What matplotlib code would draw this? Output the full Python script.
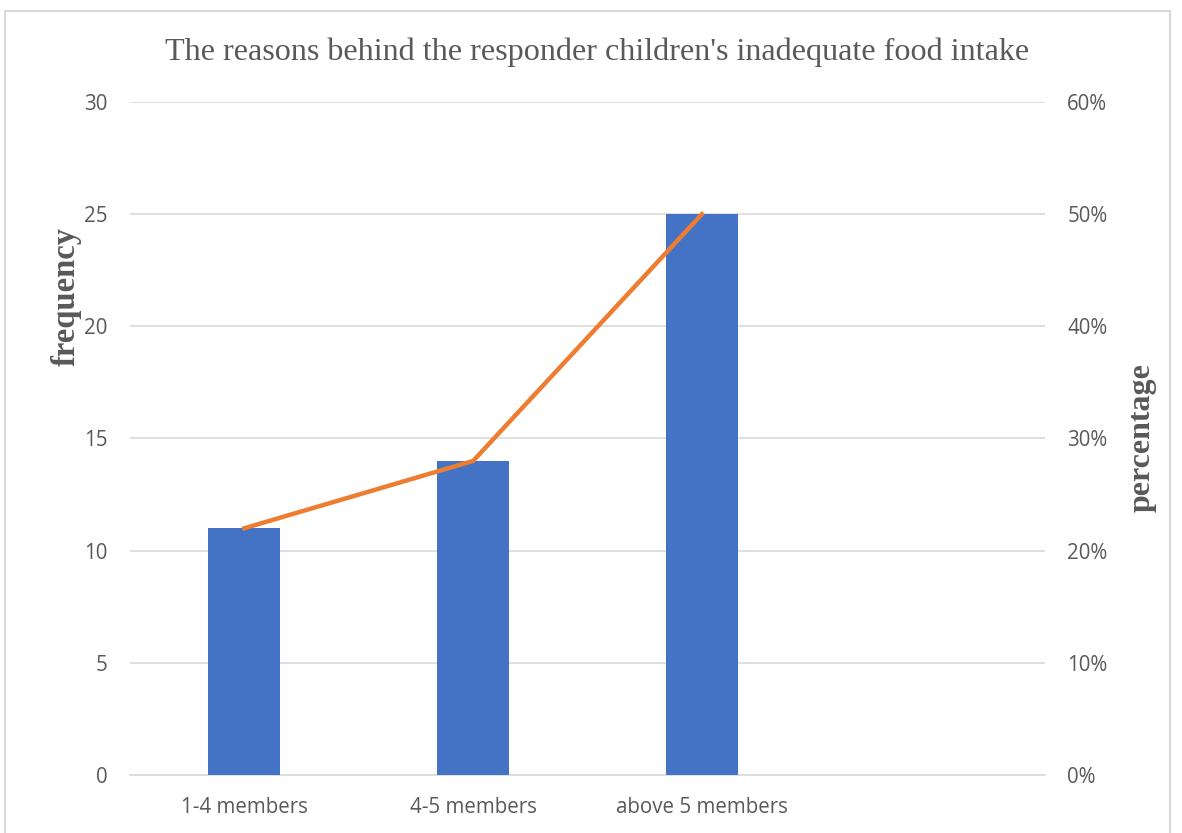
import matplotlib.pyplot as plt
import matplotlib.patches as mpatches
import numpy as np

categories = ['1-4 members', '4-5 members', 'above 5 members', '']
frequency = [11, 14, 25]
percentage = [22, 28, 50]

grey = '#595959'

fig = plt.figure(figsize=(11.82, 8.33), dpi=100)
ax = fig.add_axes([130/1182, 1-775/833, (1045-130)/1182, (775-102)/833])

# frame around the whole chart
fig.patches.append(mpatches.Rectangle((5/1182, -0.05), (1170-5)/1182, 1.05 - 11/833,
                                      transform=fig.transFigure, fill=False,
                                      edgecolor='#d9d9d9', linewidth=1.5))

x = np.arange(len(categories))
ax.bar(x[:3], frequency, width=0.315, color='#4472C4', zorder=3)
ax.set_xlim(-0.5, 3.5)
ax.set_ylim(0, 30)
ax.set_yticks(range(0, 31, 5))
ax.set_xticks(x)
ax.set_xticklabels(categories)
ax.grid(axis='y', color='#d9d9d9', linewidth=1.2, zorder=0)
for s in ax.spines.values():
    s.set_visible(False)
ax.spines['bottom'].set_visible(True)
ax.spines['bottom'].set_color('#d9d9d9')
ax.spines['bottom'].set_linewidth(1.2)
ax.tick_params(length=0, labelsize=14.8, labelcolor=grey, pad=16)
ax.tick_params(axis='x', pad=16)
for t in ax.get_xticklabels() + ax.get_yticklabels():
    t.set_family('Open Sans')

ax2 = ax.twinx()
ax2.plot(x[:3], percentage, color='#ED7D31', linewidth=3.2, zorder=4)
ax2.set_ylim(0, 60)
ax2.set_yticks(range(0, 61, 10))
ax2.set_yticklabels([f'{v}%' for v in range(0, 61, 10)])
for s in ax2.spines.values():
    s.set_visible(False)
ax2.tick_params(length=0, labelsize=14.8, labelcolor=grey, pad=16)
for t in ax2.get_yticklabels():
    t.set_family('Open Sans')

fig.text(66/1182, 1-296/833, 'frequency', rotation=90, ha='center', va='center',
         family='Liberation Serif', fontsize=23.5, fontweight='bold', color=grey)
fig.text(1142/1182, 1-438/833, 'percentage', rotation=90, ha='center', va='center',
         family='Liberation Serif', fontsize=23, fontweight='bold', color=grey)

fig.text((168+1027)/2/1182, 1-52/833, "The reasons behind the responder children's inadequate food intake",
         ha='center', va='center', family='Liberation Serif', fontsize=23.1, color=grey)

fig.savefig('out.png', dpi=100)
